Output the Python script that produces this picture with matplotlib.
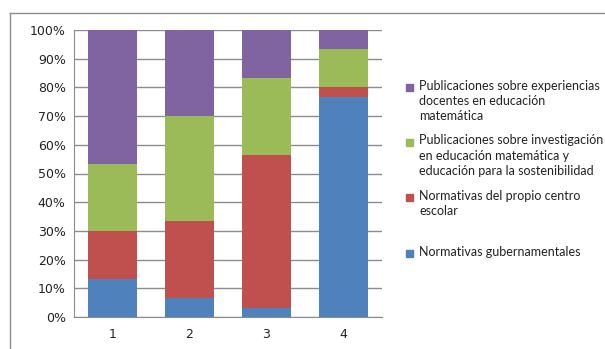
import matplotlib.pyplot as plt
from matplotlib.lines import Line2D
from matplotlib.patches import Rectangle
import numpy as np

categorias = ['1', '2', '3', '4']
gubernamentales = [13.3, 6.7, 3.3, 76.7]
centro = [16.7, 26.7, 53.3, 3.3]
investigacion = [23.3, 36.7, 26.7, 13.3]
experiencias = [46.7, 30.0, 16.7, 6.7]

series = [
    ('Normativas gubernamentales', gubernamentales, '#4F81BD'),
    ('Normativas del propio centro\nescolar', centro, '#C0504D'),
    ('Publicaciones sobre investigación\nen educación matemática y\neducación para la sostenibilidad', investigacion, '#9BBB59'),
    ('Publicaciones sobre experiencias\ndocentes en educación\nmatemática', experiencias, '#8064A2'),
]

W, H = 605, 349
fig = plt.figure(figsize=(W / 100, H / 100), dpi=100)
ax = fig.add_axes([74 / W, (H - 317) / H, 308 / W, 287 / H])

x = np.arange(len(categorias))
base = np.zeros(len(categorias))
for nombre, vals, color in series:
    ax.bar(x, vals, bottom=base, width=0.64, color=color, zorder=3)
    base += np.array(vals)

ax.set_xlim(-0.5, 3.5)
ax.set_ylim(0, 100)
ax.set_yticks(range(0, 101, 10))
ax.set_yticklabels([f'{v}%' for v in range(0, 101, 10)], fontsize=9, color='#222222')
ax.set_xticks(x)
ax.set_xticklabels(categorias, fontsize=9, color='#222222')
ax.tick_params(axis='y', length=0, pad=6)
ax.tick_params(axis='x', length=0, pad=8)
ax.grid(axis='y', color='#8c8c8c', linewidth=1, zorder=0)
for s in ['top', 'right']:
    ax.spines[s].set_visible(False)
for s in ['left', 'bottom']:
    ax.spines[s].set_color('#8c8c8c')

# leyenda a mano, de arriba abajo
ys = [87, 142, 197, 253]
for (nombre, vals, color), y in zip(reversed(series), ys):
    fig.patches.append(Rectangle((406 / W, 1 - (y + 4) / H), 7 / W, 7 / H,
                                 transform=fig.transFigure, color=color))
    fig.text(419 / W, 1 - (y - 7.5) / H, nombre, fontsize=9, family='Lato',
             va='top', ha='left', linespacing=1.33, color='#222222')

# marco exterior
fig.lines.append(Line2D([9.5 / W, 9.5 / W], [0, 1 - 12.5 / H], transform=fig.transFigure,
                        color='#8c8c8c', linewidth=1))
fig.lines.append(Line2D([9.5 / W, 604 / W], [1 - 12.5 / H, 1 - 12.5 / H], transform=fig.transFigure,
                        color='#8c8c8c', linewidth=1))

fig.savefig('out.png', dpi=100)
